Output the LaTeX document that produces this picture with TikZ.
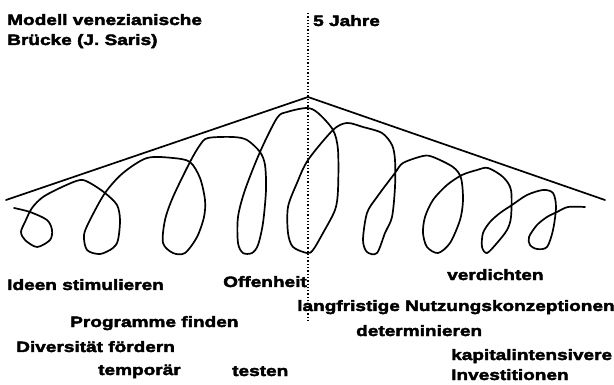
\documentclass[tikz,border=0pt]{standalone}
\usepackage{fontspec}
\newfontfamily\lab[FakeStretch=1.27,FakeBold=2.8]{Liberation Sans Bold}
\begin{document}
\begin{tikzpicture}[x=1pt,y=-1pt,
  lbl/.style={anchor=base west,inner sep=0pt,font=\lab\fontsize{15}{20}\selectfont,align=left},
  stroke/.style={line width=1.7pt,line join=round,line cap=round},
  guide/.style={line width=1.3pt,dash pattern=on 1.3pt off 2pt}]
\useasboundingbox (0,0) rectangle (614,385);
% axis of the peak
\coordinate (top) at (308,13);
\coordinate (bot) at (308,321);
\draw[guide] (top) -- (bot);
% triangle roof
\coordinate (L) at (6,200);
\coordinate (A) at (308,97);
\coordinate (R) at (605,200);
\draw[stroke] (L) -- (A) -- (R);
% spiral
\draw[stroke] plot[smooth,tension=0.5] coordinates{
 (14,208) (30,212) (47,220) (52,230) (50,240) (37,247) (25,240) (21,232) (25,222)
 (32,208) (43,197) (62,187) (80,180) (90,183) (105,193) (117,205) (120,220) (118,240)
 (113,248) (100,254) (87,250) (84,235) (90,220) (105,193) (123,173) (147,158) (173,158)
 (190,162) (200,178) (205,200) (204,217) (197,237) (185,253) (173,253) (163,243) (165,220)
 (173,197) (190,162) (200,145) (208,138) (233,137) (247,140) (260,152) (265,165) (266,190)
 (263,223) (258,245) (252,253) (243,253) (238,243) (238,217) (245,190) (260,152) (277,118)
 (287,112) (307,108) (318,113) (333,130) (338,150) (338,190) (335,210) (323,233) (313,250)
 (307,253) (293,247) (288,233) (288,207) (297,183) (308,160) (333,130) (347,123) (363,127)
 (382,133) (392,145) (395,160) (395,187) (392,217) (385,233) (377,253) (367,252) (363,240)
 (367,213) (377,197) (395,173) (403,163) (423,156) (433,157) (453,167) (461,178) (463,200)
 (460,220) (450,243) (438,253) (427,247) (423,233) (425,217) (433,200) (447,185) (462,175)
 (477,170) (488,168) (503,177) (511,190) (511,217) (507,230) (497,243) (487,253) (482,247)
 (483,233) (490,222) (500,213) (512,205) (527,195) (543,190) (553,193) (556,207) (553,230)
 (547,247) (537,249) (530,245) (529,237) (537,225) (547,217) (557,212) (568,207) (585,207)};
% labels
\node[lbl] (title) at (7,45) {Modell venezianische\\Brücke (J. Saris)};
\node[lbl] (jahre) at (313,26) {5 Jahre};
\node[lbl] (ideen) at (7,290) {Ideen stimulieren};
\node[lbl] (offen) at (223,287) {Offenheit};
\node[lbl] (prog) at (70,327) {Programme finden};
\node[lbl] (divers) at (16,352) {Diversität fördern};
\node[lbl] (temp) at (98,375) {temporär};
\node[lbl] (test) at (232,376) {testen};
\node[lbl] (verd) at (447,280) {verdichten};
\node[lbl] (lang) at (297,311) {langfristige Nutzungskonzeptionen};
\node[lbl] (det) at (356,336) {determinieren};
\node[lbl] (kap) at (451,380) {kapitalintensivere\\Investitionen};
\end{tikzpicture}
\end{document}
